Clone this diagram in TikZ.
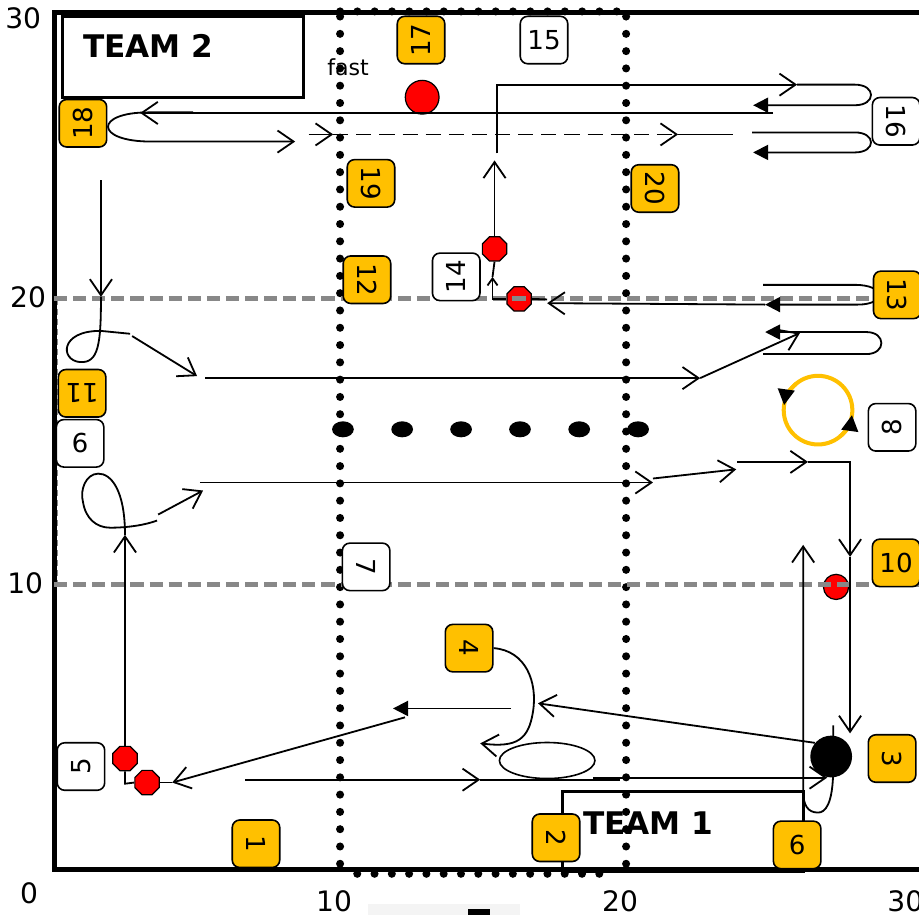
\documentclass[tikz,border=0pt]{standalone}
\usepackage{fontspec}
\setmainfont{DejaVu Sans}
\usetikzlibrary{arrows.meta,shapes.geometric}

\begin{document}
\begin{tikzpicture}[x=0.5cm,y=0.5cm]

\definecolor{playgold}{HTML}{FFC000}
\definecolor{stopred}{HTML}{FF0000}
\definecolor{markgray}{HTML}{888888}
\definecolor{stripgray}{HTML}{F4F4F4}

\tikzset{
  barbtip/.tip={Straight Barb[length=8pt,width=11pt]},
  smallbarb/.tip={Straight Barb[length=3.5pt,width=5pt]},
  filltip/.tip={Triangle[length=7.5pt,width=7.5pt]},
  pbox/.style={
    draw=black, fill=playgold, rounded corners=1.3mm,
    minimum size=8.3mm, inner sep=0pt, line width=0.8pt,
    font=\fontsize{13}{15}\selectfont
  },
  wbox/.style={pbox, fill=white},
  stopsign/.style={
    regular polygon, regular polygon sides=8, draw=black, fill=stopred,
    minimum size=4.6mm, inner sep=0pt, line width=0.6pt
  },
  marker/.style={circle, draw=black, fill=stopred, inner sep=0pt, line width=0.6pt},
  route/.style={draw=black, line width=0.9pt},
  dashroute/.style={route, dash pattern=on 7.5pt off 4pt},
  yardline/.style={draw=markgray, line width=2.4pt, dash pattern=on 6.5pt off 3pt},
  zoneline/.style={draw=black, line width=4pt, line cap=round, dash pattern=on 0pt off 8.6pt},
  teambox/.style={draw=black, line width=1.6pt, fill=white, inner sep=0pt},
  teamlabel/.style={font=\fontsize{15.5}{18}\selectfont\bfseries},
  axislabel/.style={font=\fontsize{14}{16}\selectfont}
}

\useasboundingbox (-1.89,-1.55) rectangle (30.24,30.45);

% Strip cut off at the foot of the picture.
\fill[stripgray] (10.98,-1.55) rectangle (16.29,-1.16);
\fill[black] (14.48,-1.55) rectangle (15.24,-1.33);

% Team areas.
\node[teambox, minimum width=4.21cm, minimum height=1.42cm] (team2) at (4.50,28.47) {};
\node[teamlabel] (team2label) at (3.29,28.84) {TEAM 2};
\node[teambox, minimum width=4.21cm, minimum height=1.39cm] (team1) at (21.98,1.39) {};
\node[teamlabel] (team1label) at (20.77,1.68) {TEAM 1};
\node[font=\fontsize{11}{13}\selectfont] (fastlabel) at (10.28,28.10) {fast};

% Markers on the field.
\node[stopsign] (stopa) at (15.40,21.75) {};
\node[stopsign] (stopb) at (16.26,20.00) {};
\node[stopsign] (stopc) at (2.48,3.93) {};
\node[stopsign] (stopd) at (3.25,3.09) {};
\node[marker, minimum size=5.9mm] (bigred) at (12.87,27.05) {};
\node[marker, minimum size=4.4mm] (smallred) at (27.34,9.93) {};
\node[ellipse, draw=black, fill=white, line width=0.8pt,
  minimum width=1.67cm, minimum height=0.63cm, inner sep=0pt] (scrum) at (17.24,3.86) {};
\node[circle, fill=black, minimum size=7.3mm, inner sep=0pt] (ball) at (27.17,4.00) {};
\node[pbox, rotate=-90] (p4) at (14.51,7.79) {4};

% Field border, middle zone and yard lines.
\draw[line width=2.5pt] (30.24,30) -- (0,30) -- (0,0.05) -- (30.24,0.05);
\foreach \x in {10,20}
  \draw[zoneline] (\x,0.25) -- (\x,30.05);
\draw[zoneline] (10,30.05) -- (20,30.05);
\draw[zoneline] (10.6,-0.1) -- (19.6,-0.1);
\draw[yardline] (0,20) -- (30.24,20);
\draw[yardline] (0,10) -- (30.24,10);
\draw[markgray, line width=0.7pt, dash pattern=on 3pt off 2pt] (0.12,20) -- (0.12,10);

% Row of cones.
\foreach \x in {10.10,12.17,14.23,16.29,18.36,20.42}
  \fill (\x,15.44) ellipse [x radius=0.19cm, y radius=0.14cm];

% Turning circle.
\draw[playgold, line width=2pt] (26.71,16.11) circle [radius=0.6cm];
\draw[playgold, line width=2pt, -{Triangle[length=8pt,width=8pt,color=black]}]
  (26.71,16.11) ++(130:0.6cm) arc [start angle=130, end angle=172, radius=0.6cm];
\draw[playgold, line width=2pt, -{Triangle[length=8pt,width=8pt,color=black]}]
  (26.71,16.11) ++(-50:0.6cm) arc [start angle=-50, end angle=-8, radius=0.6cm];

% Top: loop at 18, fast run and loops at 16.
\draw[route, -{barbtip}] (25.14,26.50) -- (3.01,26.50);
\draw[route, -{barbtip}] (4.86,26.52) -- (3.30,26.52)
  .. controls (1.40,26.52) and (1.40,25.50) .. (3.40,25.50) -- (8.43,25.50);
\draw[route, -{barbtip}] (8.90,25.75) -- (9.76,25.75);
\draw[dashroute, -{barbtip}] (9.76,25.75) -- (21.82,25.75);
\draw[route] (21.82,25.75) -- (23.74,25.75);
\draw[route, -{filltip}] (24.41,25.82) -- (28.00,25.82)
  .. controls (28.75,25.82) and (28.75,25.12) .. (28.00,25.12) -- (24.44,25.12);

% Climb from the stop signs and across the top.
\draw[route, -{smallbarb}] (stopb.west) -- (15.33,20.00) -- (15.33,20.77);
\draw[route] (15.33,20.77) -- (stopa.south);
\draw[route, -{barbtip}] (stopa.north) -- (15.40,24.84);
\draw[route, -{barbtip}] (15.49,25.09) -- (15.49,27.49) -- (25.98,27.49);
\draw[route, -{filltip}] (25.98,27.49) -- (28.00,27.49)
  .. controls (28.75,27.49) and (28.75,26.77) .. (28.00,26.77) -- (24.44,26.77);

% Loop at 13 and run back to the stop sign.
\draw[route, -{filltip}] (24.79,20.49) -- (28.00,20.49)
  .. controls (29.10,20.49) and (29.10,19.80) .. (28.10,19.80) -- (24.86,19.80);
\draw[route, -{barbtip}] (24.86,19.80) -- (17.24,19.85);
\draw[route] (stopb.east) -- (17.24,19.98);

% Left side: down the line, loop and across.
\draw[route, -{barbtip}] (1.64,24.14) -- (1.64,20.07);
\draw[route] (1.64,20.07) .. controls (1.64,18.40) and (1.55,17.75) .. (0.91,17.79)
  .. controls (0.20,17.85) and (0.20,18.90) .. (1.64,18.88) -- (2.66,18.78);
\draw[route, -{barbtip}] (2.73,18.70) -- (5.00,17.30);
\draw[route, -{barbtip}] (5.28,17.23) -- (22.59,17.23);
\draw[route, -{barbtip}] (22.59,17.23) -- (26.08,18.81);
\draw[route, -{filltip}] (24.79,18.07) -- (28.40,18.07)
  .. controls (29.10,18.07) and (29.10,18.84) .. (28.40,18.84) -- (24.86,18.84);

% Middle run and drop to the ball.
\draw[route, -{barbtip}] (5.10,13.58) -- (20.94,13.58);
\draw[route, -{barbtip}] (20.94,13.72) -- (23.85,14.04);
\draw[route, -{barbtip}] (23.88,14.30) -- (26.36,14.30);
\draw[route, -{barbtip}] (26.36,14.30) -- (27.83,14.30) -- (27.83,10.98);
\draw[route, -{barbtip}] (27.83,10.98) -- (27.83,4.81);

% Bottom left: stop signs, climb and loop.
\draw[route, -{barbtip}] (stopc.north) -- (2.48,11.75);
\draw[route] (2.48,11.75) .. controls (2.48,13.30) and (2.00,13.90) .. (1.54,13.89)
  .. controls (1.10,13.88) and (0.90,13.30) .. (1.01,12.91)
  .. controls (1.10,12.30) and (1.50,12.00) .. (1.96,12.00)
  .. controls (2.60,12.00) and (3.20,12.10) .. (3.60,12.25);
\draw[route, -{barbtip}] (3.64,12.46) -- (5.21,13.30);
\draw[route] (stopc.south) -- (2.48,3.05) -- (stopd.west);
\draw[route] (stopd.east) -- (4.13,3.09);
\draw[route, -{barbtip}] (12.27,5.37) -- (4.13,3.09);
\draw[route, -{filltip}] (15.98,5.68) -- (11.85,5.68);

% Bottom: runs to the ball and back.
\draw[route, -{barbtip}] (6.68,3.19) -- (14.90,3.19);
\draw[route] (14.90,3.19) -- (19.79,3.19);
\draw[route, -{barbtip}] (18.85,3.26) -- (27.03,3.26);
\draw[route, -{barbtip}] (27.24,5.09) -- (27.24,3.60)
  .. controls (27.24,2.30) and (26.95,2.04) .. (26.71,2.04)
  .. controls (26.35,2.04) and (26.19,2.30) .. (26.19,2.80) -- (26.19,11.40);
\draw[route, -{barbtip}] (ball.140) -- (16.92,5.86);
\draw[route, -{barbtip}] (p4.north) .. controls (16.50,7.70) and (16.90,6.60) .. (16.75,5.60)
  .. controls (16.60,4.60) and (16.20,4.30) .. (14.90,4.46);

% Numbered phases.
\node[pbox, rotate=90]  (p17) at (12.83,29.05) {17};
\node[wbox]             (w15) at (17.13,29.05) {15};
\node[pbox, rotate=90]  (p18) at (1.01,26.14) {18};
\node[wbox, rotate=-90] (w16) at (29.44,26.21) {16};
\node[pbox, rotate=-90] (p19) at (11.08,24.04) {19};
\node[pbox, rotate=-90] (p20) at (21.01,23.86) {20};
\node[pbox, rotate=-90] (p12) at (10.94,20.67) {12};
\node[wbox, rotate=90]  (w14) at (14.06,20.77) {14};
\node[pbox, rotate=-90] (p13) at (29.48,20.14) {13};
\node[pbox, rotate=180] (p11) at (0.98,16.70) {11};
\node[wbox, rotate=180] (w9)  at (0.91,14.95) {9};
\node[wbox, rotate=90]  (w8)  at (29.30,15.51) {8};
\node[wbox, rotate=-90] (w7)  at (10.91,10.63) {7};
\node[pbox]             (p10) at (29.44,10.77) {10};
\node[pbox, rotate=-90] (p3)  at (29.30,3.93) {3};
\node[wbox, rotate=90]  (w5)  at (0.94,3.65) {5};
\node[pbox, rotate=-90] (p1)  at (7.06,0.95) {1};
\node[pbox, rotate=-90] (p2)  at (17.55,1.16) {2};
\node[pbox]             (p6)  at (25.98,0.91) {6};

% Axis numbers.
\node[axislabel] (y30) at (-1.08,29.82) {30};
\node[axislabel] (y20) at (-0.91,20.07) {20};
\node[axislabel] (y10) at (-1.01,10.07) {10};
\node[axislabel] (y0)  at (-0.87,-0.77) {0};
\node[axislabel] (x10) at (9.79,-1.05) {10};
\node[axislabel] (x20) at (19.79,-1.05) {20};
\node[axislabel] (x30) at (29.76,-1.05) {30};

\end{tikzpicture}
\end{document}
